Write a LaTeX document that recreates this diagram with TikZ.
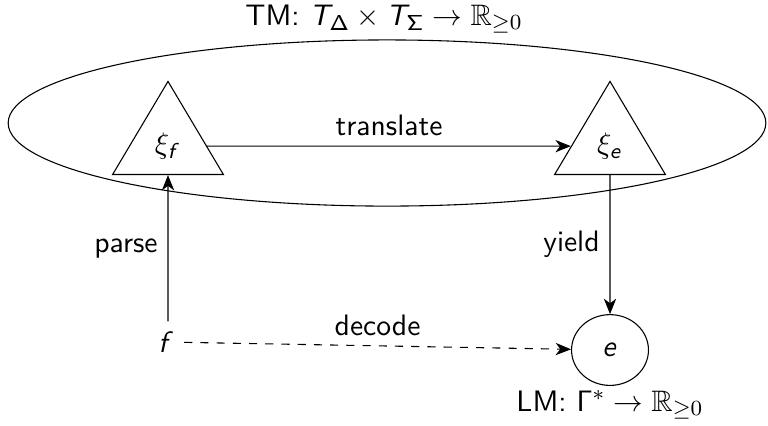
\documentclass[tikz,border=0pt,11pt]{standalone}
\usepackage{amssymb}
\usetikzlibrary{arrows.meta,positioning,shapes.geometric}
% sans slanted letters in math, as on slides
\DeclareMathAlphabet{\mathsfsl}{OT1}{cmss}{m}{sl}
\tikzset{
  >={Stealth[length=2mm,width=1.6mm,inset=0.6mm]},
  tree/.style={draw,isosceles triangle,isosceles triangle stretches,shape border rotate=90,
    minimum width=1.44cm,minimum height=1.21cm,inner sep=0pt,anchor=apex},
  model/.style={draw,ellipse,inner sep=0pt},
  caption/.style={inner sep=1pt},
  flow/.style={->,thin},
}
\begin{document}
\sffamily
\begin{tikzpicture}[x=0.013cm,y=-0.013cm]
  \useasboundingbox (0,0) rectangle (768,425);
  % translation model
  \node[model,minimum width=9.85cm,minimum height=2.16cm] (tm) at (387,123) {};
  \node[caption] (tmlabel) at (384,19) {TM: $\mathsfsl{T}_{\mathsf{\Delta}} \times \mathsfsl{T}_{\mathsf{\Sigma}} \rightarrow \mathbb{R}_{\geq 0}$};
  \node[tree] (tf) at (168,80) {$\xi_{\mathsfsl{f}}$};
  \node[tree] (te) at (610,80) {$\xi_{\mathsfsl{e}}$};
  % language model
  \node (f) at (166,342) {$\mathsfsl{f}$};
  \node[model,minimum width=1cm,minimum height=0.92cm] (e) at (610,350) {$\mathsfsl{e}$};
  \node[caption] (lmlabel) at (610,405) {LM: $\mathsf{\Gamma}^* \rightarrow \mathbb{R}_{\geq 0}$};
  \draw[flow] (tf) -- node[above] {translate} (te);
  \draw[flow] (f.north -| tf) -- node[left] {parse} (tf);
  \draw[flow] (te) -- node[left] {yield} (e);
  \draw[flow,dashed] (f) -- node[above] {decode} (e);
\end{tikzpicture}
\end{document}
